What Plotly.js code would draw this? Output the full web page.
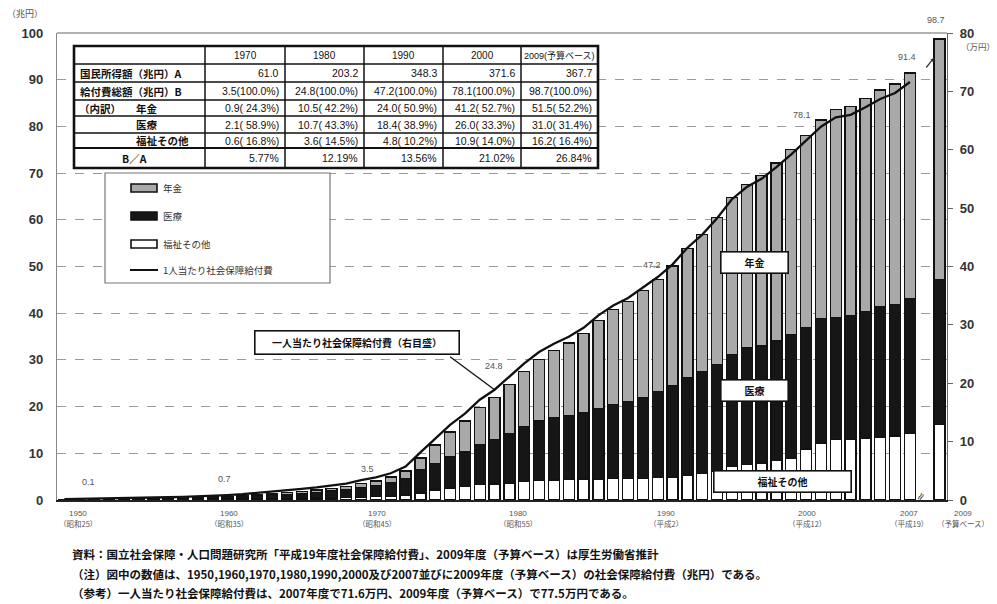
<!DOCTYPE html>
<html>
<head>
<meta charset="utf-8">
<script src="https://cdn.plot.ly/plotly-3.0.1.min.js"></script>
<style>
html,body{margin:0;padding:0;background:#fff;}
#chart{width:997px;height:604px;}
</style>
</head>
<body>
<div id="chart"></div>
<script>
// 社会保障給付費の推移（兆円）と一人当たり給付費（万円）
const years = [1950,1951,1952,1953,1954,1955,1956,1957,1958,1959,
  1960,1961,1962,1963,1964,1965,1966,1967,1968,1969,
  1970,1971,1972,1973,1974,1975,1976,1977,1978,1979,
  1980,1981,1982,1983,1984,1985,1986,1987,1988,1989,
  1990,1991,1992,1993,1994,1995,1996,1997,1998,1999,
  2000,2001,2002,2003,2004,2005,2006,2007,2009];

// 福祉その他（兆円）
const welfare = [0.07,0.07,0.10,0.12,0.14,0.17,0.17,0.18,0.20,0.23,
  0.28,0.29,0.30,0.33,0.34,0.33,0.37,0.40,0.45,0.50,
  0.60,0.71,0.85,1.05,1.49,2.17,2.54,2.90,3.30,3.42,
  3.56,3.94,4.20,4.28,4.32,4.40,4.45,4.53,4.65,4.67,
  4.80,4.94,5.32,5.66,6.15,7.16,7.65,7.91,8.47,8.87,
  10.92,12.21,12.89,12.90,13.28,13.39,13.70,14.25,16.2];

// 医療（兆円）
const medical = [0.06,0.08,0.11,0.13,0.15,0.18,0.19,0.20,0.24,0.26,
  0.29,0.38,0.49,0.63,0.79,0.91,1.09,1.27,1.48,1.68,
  2.06,2.34,2.85,3.59,5.01,5.71,6.67,7.40,8.57,9.51,
  10.73,11.76,12.70,13.30,13.77,14.29,15.07,15.87,16.41,17.34,
  18.38,19.46,20.93,21.79,22.93,24.06,24.91,25.09,25.71,26.60,
  26.00,26.62,26.20,26.59,27.13,28.11,28.10,28.93,31.0];

// 年金（兆円）
const pension = [0.00,0.01,0.01,0.01,0.02,0.04,0.04,0.05,0.06,0.07,
  0.09,0.12,0.15,0.18,0.22,0.36,0.43,0.49,0.58,0.70,
  0.86,1.04,1.23,1.60,2.52,3.88,5.36,6.59,7.92,9.02,
  10.47,11.88,13.18,14.41,15.53,16.99,18.98,20.34,21.45,22.85,
  24.04,25.70,27.59,29.38,31.39,33.50,34.94,36.42,37.96,39.56,
  41.20,42.57,44.48,44.78,45.59,46.29,47.31,48.26,51.5];

// 一人当たり社会保障給付費（万円, 1950〜2007年度）
const perCapitaYears = years.slice(0, 58);
const perCapita = [0.16,0.19,0.26,0.30,0.35,0.44,0.44,0.47,0.54,0.60,
  0.70,0.84,0.99,1.19,1.39,1.63,1.91,2.16,2.48,2.81,
  3.39,3.89,4.58,5.72,8.16,10.52,12.88,14.79,17.18,18.89,
  21.15,23.39,25.34,26.77,27.95,29.49,31.63,33.31,34.62,36.38,
  38.20,40.37,43.21,45.46,48.26,51.53,53.61,55.01,57.03,59.22,
  61.56,63.94,65.55,65.99,67.28,68.69,69.73,71.60];

// 数値を表示する年度
const labeledYears = [1950,1960,1970,1980,1990,2000,2007,2009];

// x軸の年度ラベル
const axisYears = ['1950','1960','1970','1980','1990','2000','2007','2009'];
const axisEras = ['（昭和25）','（昭和35）','（昭和45）','（昭和55）','（平成2）','（平成12）','（平成19）','（予算ベース）'];

// 表
const tableHeader = ['1970','1980','1990','2000','2009(予算ベース)'];
const tableNationalIncome = [61.0, 203.2, 348.3, 371.6, 367.7];
const tableTotal = [3.5, 24.8, 47.2, 78.1, 98.7];
const tableTotalPct = [100.0, 100.0, 100.0, 100.0, 100.0];
const tablePension = [0.9, 10.5, 24.0, 41.2, 51.5];
const tablePensionPct = [24.3, 42.2, 50.9, 52.7, 52.2];
const tableMedical = [2.1, 10.7, 18.4, 26.0, 31.0];
const tableMedicalPct = [58.9, 43.3, 38.9, 33.3, 31.4];
const tableWelfare = [0.6, 3.6, 4.8, 10.9, 16.2];
const tableWelfarePct = [16.8, 14.5, 10.2, 14.0, 16.4];
const tableRatio = [5.77, 12.19, 13.56, 21.02, 26.84];

// ---- helpers: canvas pixel -> paper coordinates ----
const L = 57, R = 947, T = 33, B = 500;
const PX = x => (x - L) / (R - L);
const PY = y => (B - y) / (B - T);

const JP = 'Noto Sans CJK JP';
const NUM = 'Liberation Sans, Noto Sans CJK JP';

const shapes = [];
const annotations = [];

function line(x0, y0, x1, y1, w, color) {
  shapes.push({type:'line', xref:'paper', yref:'paper', layer:'above',
    x0:PX(x0), y0:PY(y0), x1:PX(x1), y1:PY(y1),
    line:{color:color || '#111', width:w}});
}
function rect(x0, y0, x1, y1, fill, w, color) {
  shapes.push({type:'rect', xref:'paper', yref:'paper', layer:'above',
    x0:PX(x0), y0:PY(y0), x1:PX(x1), y1:PY(y1),
    fillcolor:fill, line:{color:color || '#111', width:w}});
}
function text(x, y, s, opt) {
  opt = opt || {};
  annotations.push(Object.assign({xref:'paper', yref:'paper', x:PX(x), y:PY(y),
    text:s, showarrow:false, xanchor:opt.xanchor || 'center', yanchor:'middle',
    font:{family:opt.family || JP, size:opt.size || 10, color:opt.color || '#111',
      weight:opt.weight || 'normal'}}, opt.extra || {}));
}

// top frame line
line(L, T, R, T, 1.5, '#999');

// ---- table ----
const colX = [74, 205, 285, 364, 443, 521, 598];
const rowY = [46, 64, 82, 100, 116, 133, 148, 168];
rect(colX[0], rowY[0], colX[6], rowY[7], '#ffffff', 0);
for (let i = 1; i < rowY.length - 1; i++) line(colX[0], rowY[i], colX[6], rowY[i], i === 6 ? 2.2 : 1.5);
for (let j = 1; j < colX.length - 1; j++) line(colX[j], rowY[0], colX[j], rowY[7], 1.5);
rect(colX[0], rowY[0], colX[6], rowY[7], 'rgba(0,0,0,0)', 2.6);

const pct = v => (v >= 100 ? '' : ' ') + v.toFixed(1) + '%';
const cellRows = [
  tableNationalIncome.map(v => v.toFixed(1)),
  tableTotal.map((v, i) => v.toFixed(1) + '(' + pct(tableTotalPct[i]) + ')'),
  tablePension.map((v, i) => v.toFixed(1) + '(' + pct(tablePensionPct[i]) + ')'),
  tableMedical.map((v, i) => v.toFixed(1) + '(' + pct(tableMedicalPct[i]) + ')'),
  tableWelfare.map((v, i) => v.toFixed(1) + '(' + pct(tableWelfarePct[i]) + ')'),
  tableRatio.map(v => v.toFixed(2) + '%')
];
tableHeader.forEach((h, j) => {
  text((colX[j + 1] + colX[j + 2]) / 2, (rowY[0] + rowY[1]) / 2, h,
    {family:NUM, size: j === 4 ? 9 : 10});
});
cellRows.forEach((row, i) => {
  const yc = (rowY[i + 1] + rowY[i + 2]) / 2;
  row.forEach((s, j) => {
    text(colX[j + 2] - 4, yc, s.replace(/ /g, '&nbsp;'), {family:NUM, size:10.5, xanchor:'right'});
  });
});
const rc = i => (rowY[i + 1] + rowY[i + 2]) / 2;
text(78, rc(0), '国民所得額（兆円）A', {size:10.5, weight:'bold', xanchor:'left'});
text(78, rc(1), '給付費総額（兆円）B', {size:10.5, weight:'bold', xanchor:'left'});
text(77, rc(2), '（内訳）', {size:10.5, weight:'bold', xanchor:'left'});
text(134, rc(2), '年金', {size:10.5, weight:'bold', xanchor:'left'});
text(134, rc(3), '医療', {size:10.5, weight:'bold', xanchor:'left'});
text(134, rc(4), '福祉その他', {size:10.5, weight:'bold', xanchor:'left'});
text(134, rc(5), 'B／A', {size:10.5, weight:'bold'});

// ---- legend ----
rect(105, 173, 330, 283, '#ffffff', 1.2, '#777');
const legendItems = [
  {y:188, label:'年金', fill:'#a9a9a9'},
  {y:216, label:'医療', fill:'#161616'},
  {y:244, label:'福祉その他', fill:'#ffffff'}
];
legendItems.forEach(it => {
  rect(131, it.y - 4, 157, it.y + 4, it.fill, 1.6, '#111');
  text(161, it.y, it.label, {size:9.5, color:'#333', xanchor:'left'});
});
line(130, 270, 158, 270, 2, '#111');
text(161, 270, '1人当たり社会保障給付費', {size:9.5, color:'#333', xanchor:'left'});

// ---- boxed series labels ----
function box(x, y, w, h, s) {
  annotations.push({xref:'paper', yref:'paper', x:PX(x), y:PY(y), xanchor:'center', yanchor:'middle',
    text:s, showarrow:false, width:w, height:h, bgcolor:'#ffffff', bordercolor:'#111',
    borderwidth:1.6, borderpad:0,
    font:{family:JP, size:10, color:'#111', weight:'bold'}});
}
box(754, 262, 66, 20, '年金');
box(754, 390, 66, 20, '医療');
box(782, 481, 136, 20, '福祉その他');
box(357, 342, 203, 22, '一人当たり社会保障給付費（右目盛）');
// leader from the label box to the per-capita line
annotations.push({xref:'x', yref:'y2', x:1979, y:perCapita[perCapitaYears.indexOf(1979)],
  text:'', showarrow:true, arrowhead:0, arrowwidth:1.3, arrowcolor:'#111',
  ax:-46, ay:-34, standoff:0});

// ---- value labels on bars ----
const labelShift = {1950:[24,-17], 1960:[12,-18], 1970:[6,-15], 1980:[-15,-18],
  1990:[-6,-14], 2000:[-4,-20], 2007:[-3,-16], 2009:[-4,-19]};
labeledYears.forEach(yr => {
  const i = years.indexOf(yr);
  const total = welfare[i] + medical[i] + pension[i];
  annotations.push({xref:'x', yref:'y', x:yr, y:total,
    text:(Math.round(total * 10) / 10).toFixed(1), showarrow:false,
    xshift:labelShift[yr][0], yshift:-labelShift[yr][1],
    font:{family:'Liberation Sans', size:9, color:'#555'}});
});
// line end pointer toward the 2009 bar
annotations.push({xref:'paper', yref:'paper', x:PX(934), y:PY(58), text:'', showarrow:true,
  arrowhead:2, arrowsize:0.6, arrowwidth:1.2, arrowcolor:'#333', ax:-9, ay:11});
// axis break mark
text(920, 497, '≈', {family:'DejaVu Sans', size:11, color:'#444', extra:{textangle:-60}});

// ---- x-axis year labels ----
const axisLabelX = [78, 229, 377, 518, 666, 807, 909, 963];
axisYears.forEach((yr, i) => {
  text(axisLabelX[i], 513, yr, {family:NUM, size:8, color:'#555'});
  text(axisLabelX[i], 523, axisEras[i], {size:7.5, color:'#555'});
});

// ---- unit labels ----
text(25, 14, '（兆円）', {size:9, color:'#555'});
text(978, 46, '（万円）', {size:8.5, color:'#555'});

// ---- notes ----
const notes = [
  '資料：国立社会保障・人口問題研究所「平成19年度社会保障給付費」、2009年度（予算ベース）は厚生労働省推計',
  '（注）図中の数値は、1950,1960,1970,1980,1990,2000及び2007並びに2009年度（予算ベース）の社会保障給付費（兆円）である。',
  '（参考）一人当たり社会保障給付費は、2007年度で71.6万円、2009年度（予算ベース）で77.5万円である。'
];
[554, 574, 593].forEach((y, i) => text(70, y, notes[i], {size:11.5, weight:'bold', xanchor:'left'}));

const barLine = {color:'#111', width:1.3};
const data = [
  {type:'bar', name:'福祉その他', x:years, y:welfare, width:0.74,
    marker:{color:'#ffffff', line:barLine}, hoverinfo:'x+y+name'},
  {type:'bar', name:'医療', x:years, y:medical, width:0.74,
    marker:{color:'#161616', line:barLine}, hoverinfo:'x+y+name'},
  {type:'bar', name:'年金', x:years, y:pension, width:0.74,
    marker:{color:'#a9a9a9', line:barLine}, hoverinfo:'x+y+name'},
  {type:'scatter', mode:'lines', name:'1人当たり社会保障給付費', x:perCapitaYears, y:perCapita,
    yaxis:'y2', line:{color:'#111', width:2.3}}
];

const tickFont = {family:'Liberation Sans', size:13, color:'#333', weight:'bold'};
const layout = {
  width:997, height:604,
  margin:{l:L, r:997 - R, t:T, b:604 - B},
  paper_bgcolor:'#ffffff', plot_bgcolor:'#ffffff',
  barmode:'stack', bargap:0.26, showlegend:false,
  xaxis:{range:[1949.5, 2009.5], showticklabels:false, ticks:'', showgrid:false,
    zeroline:false, showline:true, linecolor:'#222', linewidth:2},
  yaxis:{range:[0, 100], dtick:10, showgrid:true, gridcolor:'#9a9a9a', griddash:'dash',
    gridwidth:1, zeroline:false, showline:true, linecolor:'#888', linewidth:1.2,
    tickfont:tickFont, ticklabelstandoff:10},
  yaxis2:{overlaying:'y', side:'right', range:[0, 80], dtick:10, showgrid:false,
    zeroline:false, showline:true, linecolor:'#666', linewidth:1.2, ticks:'outside',
    ticklen:5, tickcolor:'#666', tickfont:tickFont, ticklabelstandoff:4},
  shapes:shapes,
  annotations:annotations
};

Plotly.newPlot('chart', data, layout, {staticPlot:true});
</script>
</body>
</html>
